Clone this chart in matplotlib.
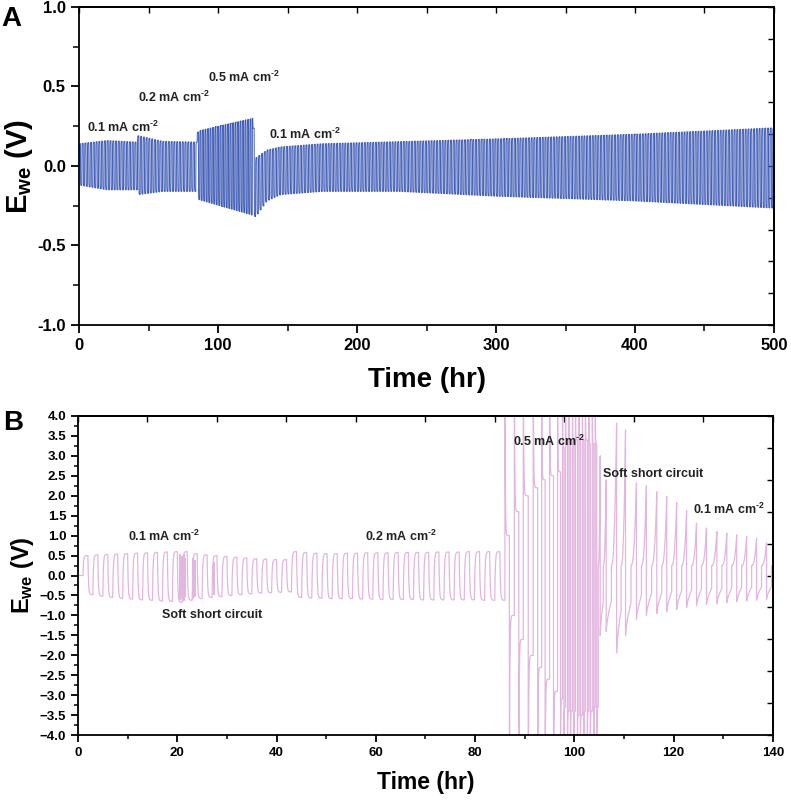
import numpy as np
import matplotlib
matplotlib.use('Agg')
import matplotlib.pyplot as plt
from matplotlib.ticker import MultipleLocator, FuncFormatter

plt.rcParams['font.family'] = ['Liberation Sans', 'DejaVu Sans']
plt.rcParams['font.weight'] = 'bold'
plt.rcParams['mathtext.fontset'] = 'custom'
plt.rcParams['mathtext.rm'] = 'Liberation Sans:bold'
plt.rcParams['mathtext.bf'] = 'Liberation Sans:bold'
plt.rcParams['mathtext.it'] = 'Liberation Sans:bold'

# ---------------- panel A data (envelope) -------------
a_env_t = [0, 20, 42, 42.5, 60, 85, 85.5, 105, 125, 127, 135, 145, 175, 230, 300, 400, 500]
a_env_up = [0.14, 0.16, 0.15, 0.19, 0.155, 0.15, 0.22, 0.26, 0.30, 0.05, 0.10, 0.12, 0.14, 0.153, 0.17, 0.20, 0.24]
a_env_lo = [-0.12, -0.15, -0.15, -0.18, -0.16, -0.16, -0.21, -0.26, -0.31, -0.32, -0.22, -0.18, -0.16, -0.16, -0.19, -0.22, -0.265]
a_seg_edges = [0, 42, 85, 125, 500]
a_seg_period = [2.0, 2.0, 1.8, 2.0]   # hr per cycle
a_labels = ['0.1', '0.2', '0.5', '0.1']
a_label_t = [6, 42.5, 93, 137]
a_label_v = [0.245, 0.43, 0.56, 0.20]

# ---------------- panel B data -------------------------------------------
# 0.1 mA cm-2, cycles starting at 1 hr
b1_start, b1_end = 1.0, 43.0
b1_peak = [0.50, 0.52, 0.53, 0.54, 0.55, 0.56, 0.57, 0.58, 0.59, 0.60, 0.60,
           0.55, 0.52, 0.50, 0.48, 0.46, 0.44, 0.42, 0.41, 0.40, 0.40]
b1_trough = [-0.48, -0.52, -0.55, -0.57, -0.59, -0.61, -0.62, -0.64, -0.65, -0.67, -0.62,
             -0.58, -0.55, -0.53, -0.50, -0.48, -0.46, -0.44, -0.43, -0.42, -0.41]
b1_short_t = [20.6, 20.9, 21.3, 21.6, 23.2, 23.5, 27.3]
b1_short_lo = [-0.62, -0.60, -0.65, -0.55, -0.58, -0.55, -0.50]
b1_short_hi = [0.55, 0.50, 0.55, 0.45, 0.45, 0.40, 0.35]
# 0.2 mA cm-2
b2_start, b2_end = 43.0, 86.0
b2_peak = [0.60, 0.58, 0.56, 0.55, 0.55, 0.56, 0.56, 0.57, 0.57, 0.57, 0.58,
           0.58, 0.58, 0.58, 0.59, 0.59, 0.59, 0.60, 0.60, 0.60, 0.60]
b2_trough = [-0.55, -0.56, -0.57, -0.58, -0.58, -0.58, -0.59, -0.59, -0.60, -0.60, -0.60,
             -0.60, -0.61, -0.61, -0.61, -0.61, -0.61, -0.61, -0.62, -0.62, -0.62]
# 0.5 mA cm-2, switching times and plateau levels (sign alternates +,-)
b3_t = [86.0, 86.9, 87.9, 88.8, 89.7, 90.7, 91.7, 92.6, 93.4, 94.1, 95.0, 95.8,
        96.6, 97.2, 97.6, 97.9, 98.2, 98.6, 98.9, 99.2, 99.6, 99.9, 100.2, 100.6,
        100.9, 101.2, 101.6, 101.9, 102.2, 102.6, 102.9, 103.2, 103.6, 103.9, 104.2,
        104.5, 104.8]
b3_plat = [1.0, 1.0, 1.6, 1.6, 2.0, 2.0, 2.2, 2.3, 2.4, 2.6, 2.5, 2.9, 2.6, 3.1,
           3.2, 3.3, 3.3, 3.4, 3.3, 3.4, 3.4, 3.4, 3.4, 3.5, 3.4, 3.5, 3.4, 3.4,
           3.4, 3.4, 3.3, 3.4, 3.3, 3.3, 3.3, 3.3]
# after soft short, 0.1 mA cm-2: peak times / peak / trough
b4_t = [105.2, 106.4, 108.5, 110.3, 112.5, 114.5, 116.6, 118.6, 120.6, 122.6,
        124.6, 126.6, 128.7, 130.7, 132.7, 134.7, 136.7, 138.7, 140.7]
b4_peak = [3.0, 2.4, 3.82, 3.65, 2.32, 2.25, 2.10, 1.98, 1.83, 1.63, 1.31, 1.19,
           1.10, 1.06, 1.02, 0.98, 0.93, 0.82, 0.80]
b4_trough = [-1.5, -1.4, -1.94, -1.5, -1.1, -1.0, -0.95, -0.90, -0.85, -0.80, -0.75,
             -0.72, -0.70, -0.68, -0.66, -0.64, -0.62, -0.60, -0.60]

sup = r'$^{\text{-2}}$'
b_text = ['0.1 mA cm' + sup, 'Soft short circuit', '0.2 mA cm' + sup,
          '0.5 mA cm' + sup, 'Soft short circuit', '0.1 mA cm' + sup]
b_text_t = [10.0, 17.0, 57.8, 87.6, 105.8, 123.9]
b_text_v = [0.97, -0.99, 0.97, 3.37, 2.55, 1.67]

blue = '#3f5bb5'
pink = '#e2b6de'
txtc = '#222222'


def relax(t0, t1, v_start, target, tau=0.07, n=14):
    s = np.linspace(0, 1, n)
    return t0 + (t1 - t0) * s, target + (v_start - target) * np.exp(-s / tau)


# ---- build panel A trace
ta, va = [], []
v = 0.0
for k in range(len(a_seg_period)):
    sw = np.arange(a_seg_edges[k], a_seg_edges[k + 1], a_seg_period[k] / 2)
    sw = np.append(sw, a_seg_edges[k + 1])
    for i in range(len(sw) - 1):
        tm = 0.5 * (sw[i] + sw[i + 1])
        if i % 2 == 0:
            tgt = np.interp(tm, a_env_t, a_env_up)
        else:
            tgt = np.interp(tm, a_env_t, a_env_lo)
        tt, vv = relax(sw[i], sw[i + 1], v, tgt, tau=0.06, n=8)
        ta.append(tt); va.append(vv)
        v = vv[-1]
ta = np.concatenate(ta); va = np.concatenate(va)

# ---- build panel B trace
tb, vb = [np.array([0.0, b1_start])], [np.array([0.0, 0.0])]
v = 0.0
for start, end, pk, tr in [(b1_start, b1_end, b1_peak, b1_trough),
                           (b2_start, b2_end, b2_peak, b2_trough)]:
    per = (end - start) / len(pk)
    for i in range(len(pk)):
        c0 = start + i * per
        tt, vv = relax(c0, c0 + per / 2, v, pk[i], tau=0.11)
        tb.append(tt); vb.append(vv)
        tt, vv = relax(c0 + per / 2, c0 + per, vv[-1], tr[i], tau=0.11)
        tb.append(tt); vb.append(vv)
        v = vv[-1]

for i in range(len(b3_t) - 1):
    sgn = 1 if i % 2 == 0 else -1
    s = np.linspace(0, 1, 12)
    tt = b3_t[i] + (b3_t[i + 1] - b3_t[i]) * s
    vv = sgn * (b3_plat[i] + (6.0 - b3_plat[i]) * np.exp(-s / 0.08))
    tb.append(tt); vb.append(vv)

prev = b3_t[-1]
for i in range(len(b4_t)):
    if i > 0:
        mid = 0.5 * (prev + b4_t[i])
        s = np.linspace(0, 1, 10)
        tb.append(prev + (mid - prev) * s)
        vb.append(b4_trough[i - 1] * (1 - 0.55 * s ** 0.7))
        prev = mid
    s = np.linspace(0, 1, 14)
    tb.append(prev + (b4_t[i] - prev) * s)
    vb.append(0.25 + (b4_peak[i] - 0.25) * s ** 2.5)
    prev = b4_t[i]
tb = np.concatenate(tb); vb = np.concatenate(vb)

# ---------------- figure ---------------------------------------------------
fig = plt.figure(figsize=(7.91, 8.02), dpi=100)
axA = fig.add_axes([0.0999, 0.5948, 0.8786, 0.3965])
axB = fig.add_axes([0.0986, 0.0835, 0.8786, 0.3978])

hy = FuncFormatter(lambda x, p: f'{x:.1f}' if abs(x) > 1e-9 else '0.0')
um = FuncFormatter(lambda x, p: (f'{x:.1f}'.replace('-', '\u2212')) if abs(x) > 1e-9 else '0.0')

# panel A
axA.plot(ta, va, color=blue, lw=0.7)
axA.set_xlim(0, 500)
axA.set_ylim(-1.0, 1.0)
axA.xaxis.set_major_locator(MultipleLocator(100))
axA.xaxis.set_minor_locator(MultipleLocator(50))
axA.yaxis.set_major_locator(MultipleLocator(0.5))
axA.yaxis.set_minor_locator(MultipleLocator(0.25))
axA.yaxis.set_major_formatter(hy)
axA.tick_params(which='major', direction='out', length=6, width=1.3, labelsize=12)
axA.tick_params(which='minor', direction='out', length=4, width=1.1)
axA.set_xlabel('Time (hr)', fontsize=20, fontweight='bold', labelpad=10)
axA.set_ylabel(r'E$_{\mathbf{we}}$ (V)', fontsize=21, fontweight='bold', labelpad=2)
for k in range(len(a_labels)):
    axA.text(a_label_t[k], a_label_v[k], a_labels[k] + ' mA cm' + sup, fontsize=9,
             fontweight='bold', color=txtc, va='center', ha='left')
secx = axA.secondary_xaxis('top')
secx.xaxis.set_major_locator(MultipleLocator(50))
secx.tick_params(direction='in', length=4, width=1.0, labeltop=False)
secy = axA.secondary_yaxis('right')
secy.yaxis.set_major_locator(MultipleLocator(0.2))
secy.tick_params(direction='in', length=4, width=1.0, labelright=False)

# panel B
axB.plot(tb, vb, color=pink, lw=0.9)
axB.vlines(b1_short_t, b1_short_lo, b1_short_hi, color=pink, lw=1.4)
axB.set_xlim(0, 140)
axB.set_ylim(-4.0, 4.0)
axB.xaxis.set_major_locator(MultipleLocator(20))
axB.xaxis.set_minor_locator(MultipleLocator(10))
axB.yaxis.set_major_locator(MultipleLocator(0.5))
axB.yaxis.set_minor_locator(MultipleLocator(0.25))
axB.yaxis.set_major_formatter(um)
axB.tick_params(which='major', direction='out', length=5, width=1.3, labelsize=9.5)
axB.tick_params(which='minor', direction='out', length=3, width=1.1)
axB.set_xlabel('Time (hr)', fontsize=16.5, fontweight='bold', labelpad=9)
axB.set_ylabel(r'E$_{\mathbf{we}}$ (V)', fontsize=17, fontweight='bold', labelpad=3)
for k in range(len(b_text)):
    axB.text(b_text_t[k], b_text_v[k], b_text[k], fontsize=9, fontweight='bold',
             color=txtc, va='center', ha='left')
secx2 = axB.secondary_xaxis('top')
secx2.xaxis.set_major_locator(MultipleLocator(14))
secx2.tick_params(direction='in', length=4, width=1.0, labeltop=False)
secy2 = axB.secondary_yaxis('right')
secy2.yaxis.set_major_locator(MultipleLocator(0.8))
secy2.tick_params(direction='in', length=4, width=1.0, labelright=False)

for ax in (axA, axB, secx, secy, secx2, secy2):
    for sp in ax.spines.values():
        sp.set_linewidth(1.3)

fig.text(0.002, 0.992, 'A', fontsize=20, fontweight='bold', va='top')
fig.text(0.004, 0.489, 'B', fontsize=20, fontweight='bold', va='top')

fig.savefig('out.png', dpi=100)
